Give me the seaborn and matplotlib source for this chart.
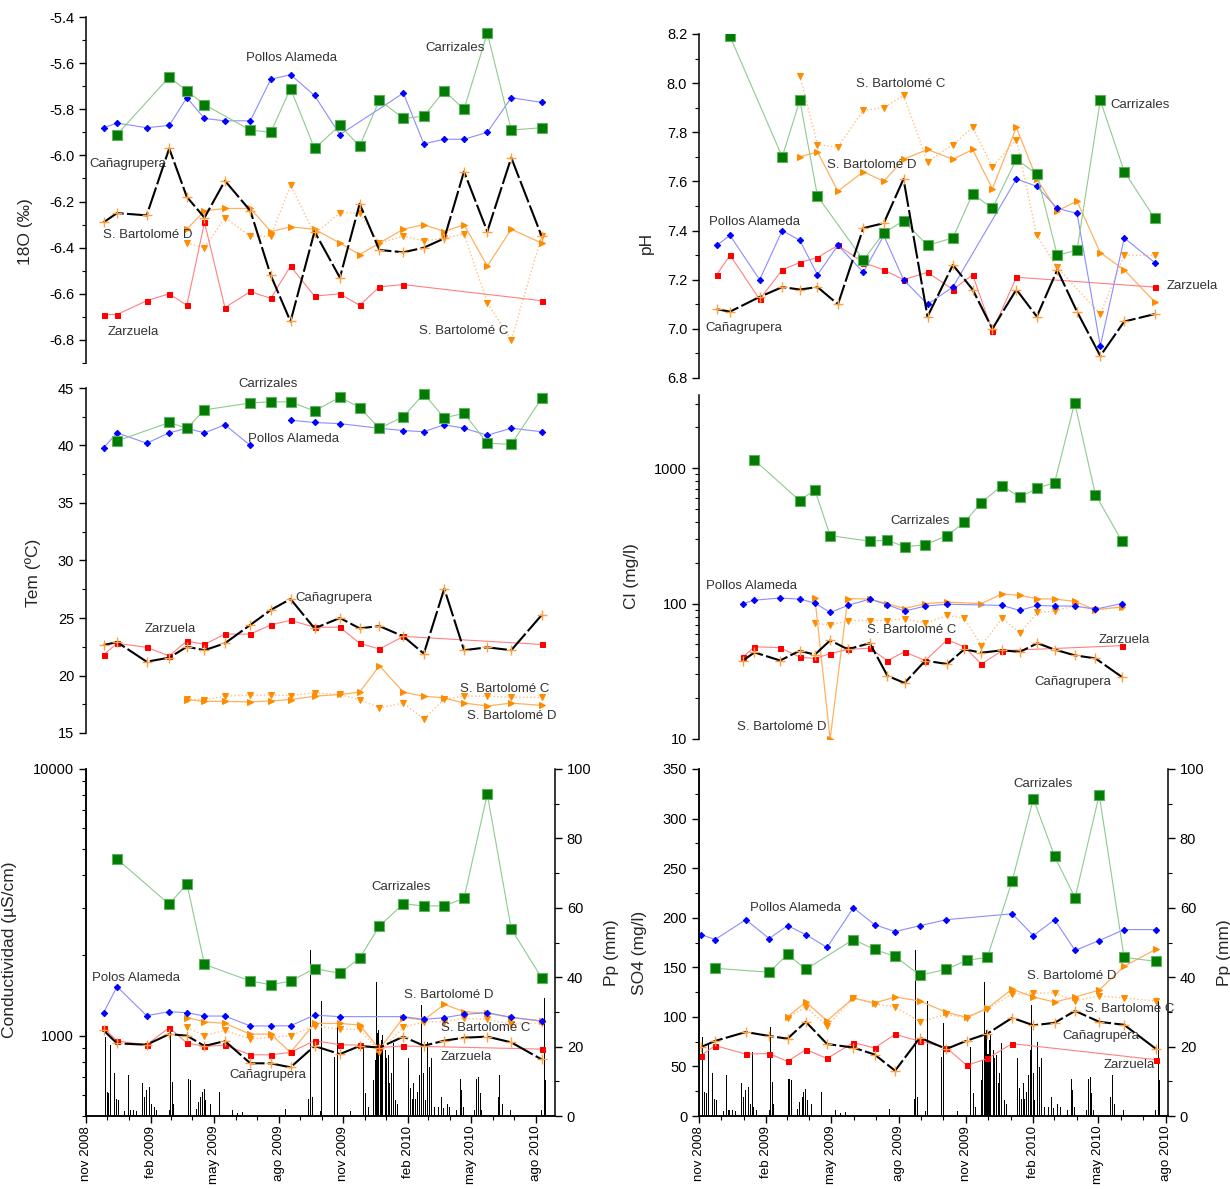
import numpy as np
import pandas as pd
import matplotlib
matplotlib.use("Agg")
import matplotlib.pyplot as plt
import matplotlib.ticker as mticker
import seaborn as sns

nan = np.nan

# ---------------- data ----------------
sample_dates = ["2008-11-26", "2008-12-15", "2009-01-26", "2009-02-27", "2009-03-24",
                "2009-04-18", "2009-05-17", "2009-06-22", "2009-07-21", "2009-08-18",
                "2009-09-21", "2009-10-27", "2009-11-24", "2009-12-22", "2010-01-25",
                "2010-02-23", "2010-03-24", "2010-04-21", "2010-05-24", "2010-06-27",
                "2010-08-09"]

sites = ["Pollos Alameda", "Carrizales", "Cañagrupera", "Zarzuela",
         "S. Bartolomé C", "S. Bartolomé D"]

# 18O (permil)
o18_pollos = [-5.88, -5.86, -5.88, -5.87, -5.75, -5.84, -5.85, -5.85, -5.67, -5.65, -5.74,
              -5.91, nan, nan, -5.73, -5.95, -5.93, -5.93, -5.90, -5.75, -5.77]
o18_carr = [nan, -5.91, nan, -5.66, -5.72, -5.78, nan, -5.89, -5.90, -5.71, -5.97,
            -5.87, -5.96, -5.76, -5.84, -5.83, -5.72, -5.80, -5.47, -5.89, -5.88]
o18_cana = [-6.29, -6.25, -6.26, -5.97, -6.18, -6.27, -6.11, -6.24, -6.52, -6.72, -6.33,
            -6.53, -6.21, -6.41, -6.42, -6.40, -6.36, -6.07, -6.33, -6.01, -6.35]
o18_zarz = [-6.69, -6.69, -6.63, -6.60, -6.65, -6.29, -6.66, -6.59, -6.62, -6.48, -6.61,
            -6.60, -6.65, -6.57, -6.56, nan, nan, nan, nan, nan, -6.63]
o18_sbc = [nan, nan, nan, nan, -6.38, -6.40, -6.27, -6.35, -6.35, -6.13, -6.34,
           -6.25, -6.25, -6.38, -6.35, -6.37, -6.36, -6.34, -6.64, -6.80, -6.35]
o18_sbd = [nan, nan, nan, nan, -6.32, -6.24, -6.23, -6.23, -6.33, -6.31, -6.32,
           -6.38, -6.43, -6.38, -6.32, -6.30, -6.33, -6.30, -6.48, -6.32, -6.38]

# pH
ph_pollos = [7.34, 7.38, 7.20, 7.40, 7.36, 7.22, 7.34, 7.23, 7.38, 7.20, 7.10,
             7.17, nan, nan, 7.61, 7.58, 7.49, 7.47, 6.93, 7.37, 7.27]
ph_carr = [nan, 8.19, nan, 7.70, 7.93, 7.54, nan, 7.28, 7.39, 7.44, 7.34,
           7.37, 7.55, 7.49, 7.69, 7.63, 7.30, 7.32, 7.93, 7.64, 7.45]
ph_cana = [7.08, 7.07, 7.13, 7.17, 7.16, 7.17, 7.10, 7.41, 7.43, 7.61, 7.05,
           7.26, 7.16, 7.00, 7.16, 7.05, 7.24, 7.07, 6.89, 7.03, 7.06]
ph_zarz = [7.22, 7.30, 7.12, 7.24, 7.27, 7.29, 7.34, 7.27, 7.24, 7.20, 7.23,
           7.16, 7.22, 6.99, 7.21, nan, nan, nan, nan, nan, 7.17]
ph_sbc = [nan, nan, nan, nan, 8.03, 7.75, 7.74, 7.89, 7.90, 7.95, 7.68,
          7.75, 7.82, 7.66, 7.77, 7.38, 7.25, nan, 7.06, 7.30, 7.30]
ph_sbd = [nan, nan, nan, nan, 7.70, 7.72, 7.56, 7.64, 7.60, 7.69, 7.73,
          7.69, 7.73, 7.57, 7.82, 7.61, 7.48, 7.52, 7.31, 7.24, 7.11]

# Temperature (C)
tem_pollos = [39.8, 41.1, 40.2, 41.1, 41.5, 41.1, 41.8, 40.0, nan, 42.2, 42.0,
              41.9, nan, 41.5, 41.3, 41.2, 41.8, 41.5, 40.9, 41.5, 41.2]
tem_carr = [nan, 40.4, nan, 42.0, 41.5, 43.1, nan, 43.7, 43.8, 43.8, 43.0,
            44.2, 43.3, 41.5, 42.5, 44.5, 42.4, 42.8, 40.2, 40.1, 44.1]
tem_cana = [22.65, 22.9, 21.2, 21.55, 22.5, 22.2, 22.8, 24.4, 25.7, 26.65, 24.1,
            25.0, 24.1, 24.3, 23.4, 21.9, 27.55, 22.2, 22.45, 22.2, 25.25]
tem_zarz = [21.8, 22.8, 22.45, 21.7, 23.0, 22.7, 23.6, 23.6, 24.4, 24.8, 24.2,
            24.2, 22.8, 22.3, 23.4, nan, nan, nan, nan, nan, 22.7]
tem_sbc = [nan, nan, nan, nan, 17.95, 17.9, 18.2, 18.3, 18.3, 18.25, 18.5,
           18.35, 17.9, 17.2, 17.6, 16.2, 17.95, 18.2, 18.2, 18.1, 18.1]
tem_sbd = [nan, nan, nan, nan, 17.9, 17.75, 17.75, 17.7, 17.8, 17.9, 18.2,
           18.35, 18.55, 20.85, 18.55, 18.2, 18.05, 17.6, 17.35, 17.6, 17.4]

# Chloride (mg/l)
cl_pollos = [100, 106, 110, 108, 101, 86, 97, 108, 98, 88, 96,
             99, nan, nan, 97, 89, 97, 96, 96, 91, 100]
cl_carr = [nan, 1150, nan, 577, 692, 318, nan, 289, 294, 263, 272,
           318, 399, 558, 745, 608, 716, 780, 3050, 639, 292]
cl_cana = [38, 43.6, 38, 44.8, 42, 53.5, 46, 51, 29.3, 25.9, 37.9,
           35.8, 46, 43.4, 45.2, 44, 51, 45.8, 41.5, 39.4, 28.8]
cl_zarz = [40.3, 48, 47.3, 40.3, 39.3, 42.7, 45.9, 46.9, 37.9, 44.1, 37.9,
           54.1, 48, 35.8, 44.9, nan, nan, nan, nan, nan, 48.9]
cl_sbc = [nan, nan, nan, nan, 71.8, 69, 75, 75, 75, 77.3, 71.8,
          81.8, 78, 48.9, 78, 60.6, 86, 88, 96.4, 90, 94]
cl_sbd = [nan, nan, nan, nan, 110, 10, 109, 108, 100, 92, 100,
          102.6, nan, 100, 118, 115, 108.6, 108, 104, 90, 94.7]

# Conductivity (uS/cm)
ce_pollos = [1220, 1527, 1189, 1230, 1220, 1185, 1185, 1088, 1088, 1090, 1194,
             1179, nan, nan, 1179, 1152, 1169, 1202, 1220, 1172, 1135]
ce_carr = [nan, 4600, nan, 3110, 3715, 1851, nan, 1603, 1554, 1600, 1786,
           1714, 1954, 2576, 3126, 3063, 3070, 3273, 8056, 2512, 1650]
ce_cana = [1047, 936, 925, 1014, 1000, 915, 955, 788, 788, 761, 915,
           853, 915, 902, 992, 917, 958, 983, 992, 944, 815]
ce_zarz = [1072, 955, 925, 1072, 939, 912, 922, 848, 848, 866, 958,
           925, 922, 904, 915, nan, nan, nan, nan, nan, 891]
ce_sbc = [nan, nan, nan, nan, 1074, 1000, 1047, 972, 986, 1000, 1088,
          1057, 1057, 871, 1074, 1128, 1128, 1161, 1152, 1103, 1119]
ce_sbd = [nan, nan, nan, nan, 1169, 1128, 1112, 1014, 1014, 866, 1112,
          1112, 1096, 891, 1169, 1145, 1311, 1230, 1215, 1169, 1135]

# Sulphate (mg/l)
so4_pollos = [183, 178, 198, 179, 192, 183, 170, 210, 193, 186, 192,
              198, nan, nan, 204, 182, 198, 167, 177, 188, 188]
so4_carr = [nan, 149, nan, 145, 163, 148, nan, 178, 168, 161, 142,
            148, 157, 160, 237, 320, 262, 220, 324, 160, 156]
so4_cana = [69.6, 75.7, 84.7, 80.7, 78, 95, 72.6, 69, 62, 45.7, 79,
            67.6, 76, 83, 99, 91.5, 94, 106, 95, 92, 68]
so4_zarz = [61, 71, 62.5, 63, 55, 67, 58, 74, 68.6, 82.4, 75.3,
            69, 51, 58, 73, nan, nan, nan, nan, nan, 56.8]
so4_sbc = [nan, nan, nan, nan, 99, 110, 91, 119, 113, 110, 95,
           102.6, 99, 108, 123, 124, 124, 116, 121, 119, 116]
so4_sbd = [nan, nan, nan, nan, 100, 115, 96, 119, 114, 120, 116,
           104.6, 99.5, 108.6, 128, 120, 115, 120, 127, 151, 168]

# Daily precipitation (mm), days counted from rain_start
rain_start = "2008-11-01"
rain_days = [27, 30, 32, 35, 40, 43, 46, 55, 60, 63, 68, 72, 80, 83, 86, 90, 93, 95, 97, 100,
             118, 120, 122, 124, 145, 148, 156, 160, 163, 165, 168, 170, 176, 189, 208, 215, 222,
             283, 316, 318, 321, 332, 334, 353, 356, 375, 393, 397, 400, 408, 410, 412, 414, 415,
             417, 419, 421, 424, 426, 429, 431, 433, 436, 439,
             442, 457, 460, 463, 465, 467, 470, 473, 475, 476, 479, 481, 484, 487, 490, 494, 500,
             504, 507, 512, 516, 526, 531, 533, 535, 551, 554, 557, 559, 561, 585, 587, 590, 602,
             646, 650, 652]
rain_mm = [22.9, 7.0, 6.5, 20.5, 12.5, 4.8, 4.5, 1.5, 11.8, 1.8, 1.8, 1.5, 9.4, 5.6, 7.5, 8.5, 3.5, 18.5, 2.7, 1.8,
           1.8, 25.7, 9.9, 3.5, 10.6, 10.4, 1.9, 4.0, 5.6, 7.0, 7.7, 4.5, 3.6, 7.0, 1.8, 1.0, 1.2,
           2.0, 4.8, 47.8, 5.6, 1.5, 33.0, 17.0, 26.7, 1.5, 20.0, 6.5, 2.7, 10.4, 16.0, 38.7, 23.8, 24.8,
           18.0, 21.9, 23.3, 19.0, 16.6, 17.6, 9.4, 12.3, 21.0, 4.6,
           3.6, 16.6, 8.0, 5.0, 9.4, 5.0, 7.0, 11.8, 19.0, 32.0, 12.3, 4.6, 21.4, 14.2, 16.6, 2.7, 2.7,
           5.6, 2.2, 3.6, 2.7, 1.8, 10.8, 7.5, 2.7, 1.8, 10.8, 11.3, 6.5, 1.8, 5.6, 11.8, 3.6, 1.8,
           1.8, 33.9, 10.4]

tick_months = ["2008-11-01", "2009-02-01", "2009-05-01", "2009-08-01", "2009-11-01",
               "2010-02-01", "2010-05-01", "2010-08-01"]
tick_labels = ["nov 2008", "feb 2009", "may 2009", "ago 2009", "nov 2009",
               "feb 2010", "may 2010", "ago 2010"]

# ---------------- style ----------------
sns.set_theme(style="ticks")
plt.rcParams['font.family'] = ['Liberation Sans', 'DejaVu Sans']
plt.rcParams['axes.linewidth'] = 1.1
plt.rcParams['axes.edgecolor'] = 'black'
plt.rcParams['xtick.color'] = 'black'
plt.rcParams['ytick.color'] = 'black'

site_style = {
    "Pollos Alameda": dict(color='#8c8cff', marker='D', markersize=3.2, markerfacecolor='#0000ff',
                           markeredgecolor='#0000ff', linewidth=0.8),
    "Carrizales": dict(color='#8fca8f', marker='s', markersize=6.8, markerfacecolor='#007a00',
                       markeredgecolor='#5fb05f', markeredgewidth=0.8, linewidth=0.8),
    "Cañagrupera": dict(color='black', marker='+', markersize=7, markeredgecolor='#ffa040',
                        markeredgewidth=1.0, linewidth=1.5, linestyle=(0, (11, 1.6))),
    "Zarzuela": dict(color='#ff8080', marker='s', markersize=3.6, markerfacecolor='#ff0000',
                     markeredgecolor='#ff0000', linewidth=0.8),
    "S. Bartolomé C": dict(color='#ffbf80', marker='v', markersize=4.2, markerfacecolor='#ff8c00',
                           markeredgecolor='#ff8c00', linewidth=1.0, linestyle=':'),
    "S. Bartolomé D": dict(color='#ffb060', marker='>', markersize=4.2, markerfacecolor='#ff8c00',
                           markeredgecolor='#ff8c00', linewidth=0.9),
}
draw_order = ["S. Bartolomé C", "S. Bartolomé D", "Zarzuela", "Pollos Alameda", "Carrizales", "Cañagrupera"]

W, H = 1230, 1189
fig = plt.figure(figsize=(W / 100, H / 100), dpi=100)
fig.patch.set_facecolor('white')


def rect(x0, y0, x1, y1):
    return [x0 / W, 1 - y1 / H, (x1 - x0) / W, (y1 - y0) / H]


dates = pd.to_datetime(sample_dates)


def draw_series(ax, values, breaks=None):
    for site in draw_order:
        vals = values[site]
        df = pd.DataFrame({"date": dates, "value": vals})
        segments = [df]
        if breaks and site in breaks:
            b = breaks[site]
            segments = [df.iloc[:b], df.iloc[b:]]
        for seg in segments:
            seg = seg.dropna()
            if len(seg) == 0:
                continue
            sns.lineplot(data=seg, x="date", y="value", ax=ax, errorbar=None, **site_style[site])


def style_axis(ax, ylabel, label_xy, bottom=False):
    ax.spines['top'].set_visible(False)
    ax.spines['right'].set_visible(False)
    ax.set_ylabel(ylabel, fontsize=12.5)
    ax.yaxis.set_label_coords(*label_xy)
    ax.tick_params(axis='y', which='major', direction='out', length=5, width=1.0, labelsize=10.5, left=True)
    ax.tick_params(axis='y', which='minor', direction='out', length=3, width=0.8, left=True)
    ax.set_xlabel("")
    if not bottom:
        ax.spines['bottom'].set_visible(False)
        ax.tick_params(axis='x', which='both', bottom=False, labelbottom=False)


def log_format(ax):
    ax.set_yscale('log')
    ax.yaxis.set_major_locator(mticker.LogLocator(base=10))
    ax.yaxis.set_minor_locator(mticker.LogLocator(base=10, subs=np.arange(2, 10)))
    ax.yaxis.set_major_formatter(mticker.FuncFormatter(lambda v, p: f"{v:g}"))
    ax.yaxis.set_minor_formatter(mticker.NullFormatter())


def date_axis(ax, shift_days=0):
    shift = pd.Timedelta(days=shift_days)
    major = [pd.Timestamp(t) + shift for t in tick_months]
    minor = [t + shift for t in pd.date_range("2008-11-01", "2010-09-01", freq="MS")]
    ax.xaxis.set_major_locator(mticker.FixedLocator(matplotlib.dates.date2num(major)))
    ax.xaxis.set_major_formatter(mticker.FixedFormatter(tick_labels))
    ax.xaxis.set_minor_locator(mticker.FixedLocator(matplotlib.dates.date2num(minor)))
    ax.tick_params(axis='x', which='major', direction='out', length=5, width=1.0, labelsize=9.6,
                   bottom=True, labelrotation=90, pad=2)
    ax.tick_params(axis='x', which='minor', direction='out', length=3, width=0.8, bottom=True)


def rain_axis(ax):
    ax2 = ax.twinx()
    rdates = pd.Timestamp(rain_start) + pd.to_timedelta(rain_days, unit='D')
    ax2.bar(rdates, rain_mm, width=1.4, color='black', linewidth=0, zorder=1)
    ax2.set_ylim(0, 100)
    ax2.yaxis.set_major_locator(mticker.MultipleLocator(20))
    ax2.yaxis.set_minor_locator(mticker.MultipleLocator(10))
    ax2.spines['top'].set_visible(False)
    ax2.tick_params(axis='y', which='major', direction='out', length=5, width=1.0, labelsize=10.5, right=True)
    ax2.tick_params(axis='y', which='minor', direction='out', length=3, width=0.8, right=True)
    ax2.set_ylabel("Pp (mm)", fontsize=12.5)
    ax2.yaxis.set_label_coords(1.105, 0.47)
    return ax2


def label(x, y, txt):
    fig.text(x / W, 1 - y / H, txt, ha='center', va='center', fontsize=9.5, color='#333333')


XL_DEF = (pd.Timestamp("2008-11-01"), pd.Timestamp("2010-08-28"))
XL_CL = (pd.Timestamp("2008-09-15"), pd.Timestamp("2010-10-24"))
XL_SO4 = (pd.Timestamp("2008-11-23"), pd.Timestamp("2010-08-26"))

# ---- 18O ----
ax = fig.add_axes(rect(86, 17, 555, 363))
draw_series(ax, dict(zip(sites, [o18_pollos, o18_carr, o18_cana, o18_zarz, o18_sbc, o18_sbd])))
ax.set_xlim(*XL_DEF)
ax.set_ylim(-6.9, -5.4)
ax.yaxis.set_major_locator(mticker.MultipleLocator(0.2))
ax.yaxis.set_minor_locator(mticker.MultipleLocator(0.1))
ax.yaxis.set_major_formatter(mticker.FuncFormatter(lambda v, p: f"{v:.1f}"))
style_axis(ax, "18O (‰)", (-0.112, 0.38))
for (x, y, t) in [(291, 58, "Pollos Alameda"), (455, 48, "Carrizales"), (128, 164, "Cañagrupera"),
                  (148, 235, "S. Bartolomé D"), (133, 332, "Zarzuela"), (464, 331, "S. Bartolomé C")]:
    label(x, y, t)

# ---- Tem ----
ax = fig.add_axes(rect(86, 388, 555, 733))
draw_series(ax, dict(zip(sites, [tem_pollos, tem_carr, tem_cana, tem_zarz, tem_sbc, tem_sbd])),
            breaks={"Pollos Alameda": 8})
ax.set_xlim(*XL_DEF)
ax.set_ylim(15, 45)
ax.yaxis.set_major_locator(mticker.MultipleLocator(5))
ax.yaxis.set_minor_locator(mticker.MultipleLocator(2.5))
style_axis(ax, "Tem (ºC)", (-0.097, 0.464))
for (x, y, t) in [(268, 384, "Carrizales"), (293, 439, "Pollos Alameda"), (334, 598, "Cañagrupera"),
                  (170, 629, "Zarzuela"), (505, 689, "S. Bartolomé C"), (512, 716, "S. Bartolomé D")]:
    label(x, y, t)

# ---- Conductividad ----
ax = fig.add_axes(rect(86, 769, 555, 1116))
ax2 = rain_axis(ax)
ax.set_zorder(ax2.get_zorder() + 1)
ax.patch.set_visible(False)
draw_series(ax, dict(zip(sites, [ce_pollos, ce_carr, ce_cana, ce_zarz, ce_sbc, ce_sbd])))
log_format(ax)
ax.set_ylim(500, 10000)
ax.set_xlim(*XL_DEF)
style_axis(ax, "Conductividad (µS/cm)", (-0.148, 0.478), bottom=True)
date_axis(ax)
for (x, y, t) in [(136, 978, "Polos Alameda"), (401, 887, "Carrizales"), (449, 995, "S. Bartolomé D"),
                  (486, 1028, "S. Bartolomé C"), (466, 1057, "Zarzuela"), (268, 1075, "Cañagrupera")]:
    label(x, y, t)

# ---- pH ----
ax = fig.add_axes(rect(699, 34, 1168, 378))
draw_series(ax, dict(zip(sites, [ph_pollos, ph_carr, ph_cana, ph_zarz, ph_sbc, ph_sbd])))
ax.set_xlim(*XL_DEF)
ax.set_ylim(6.8, 8.2)
ax.yaxis.set_major_locator(mticker.MultipleLocator(0.2))
ax.yaxis.set_minor_locator(mticker.MultipleLocator(0.1))
ax.yaxis.set_major_formatter(mticker.FuncFormatter(lambda v, p: f"{v:.1f}"))
style_axis(ax, "pH", (-0.097, 0.394))
for (x, y, t) in [(901, 84, "S. Bartolomé C"), (1140, 105, "Carrizales"), (872, 165, "S. Bartolomé D"),
                  (755, 222, "Pollos Alameda"), (1192, 286, "Zarzuela"), (744, 328, "Cañagrupera")]:
    label(x, y, t)

# ---- Cl ----
ax = fig.add_axes(rect(699, 395, 1168, 739))
draw_series(ax, dict(zip(sites, [cl_pollos, cl_carr, cl_cana, cl_zarz, cl_sbc, cl_sbd])))
log_format(ax)
ax.set_ylim(10, 3475)
ax.set_xlim(*XL_CL)
style_axis(ax, "Cl (mg/l)", (-0.128, 0.473))
for (x, y, t) in [(920, 521, "Carrizales"), (751, 586, "Pollos Alameda"), (912, 630, "S. Bartolomé C"),
                  (1124, 640, "Zarzuela"), (1073, 682, "Cañagrupera"), (782, 727, "S. Bartolomé D")]:
    label(x, y, t)

# ---- SO4 ----
ax = fig.add_axes(rect(699, 769, 1168, 1116))
ax2 = rain_axis(ax)
ax.set_zorder(ax2.get_zorder() + 1)
ax.patch.set_visible(False)
draw_series(ax, dict(zip(sites, [so4_pollos, so4_carr, so4_cana, so4_zarz, so4_sbc, so4_sbd])))
ax.set_ylim(0, 350)
ax.set_xlim(*XL_SO4)
ax.yaxis.set_major_locator(mticker.MultipleLocator(50))
ax.yaxis.set_minor_locator(mticker.MultipleLocator(25))
style_axis(ax, "SO4 (mg/l)", (-0.11, 0.47), bottom=True)
date_axis(ax, shift_days=22)
for (x, y, t) in [(1043, 784, "Carrizales"), (796, 908, "Pollos Alameda"), (1072, 976, "S. Bartolomé D"),
                  (1130, 1009, "S. Bartolomé C"), (1101, 1036, "Cañagrupera"), (1129, 1065, "Zarzuela")]:
    label(x, y, t)

fig.savefig("out.png", dpi=100, facecolor='white')
